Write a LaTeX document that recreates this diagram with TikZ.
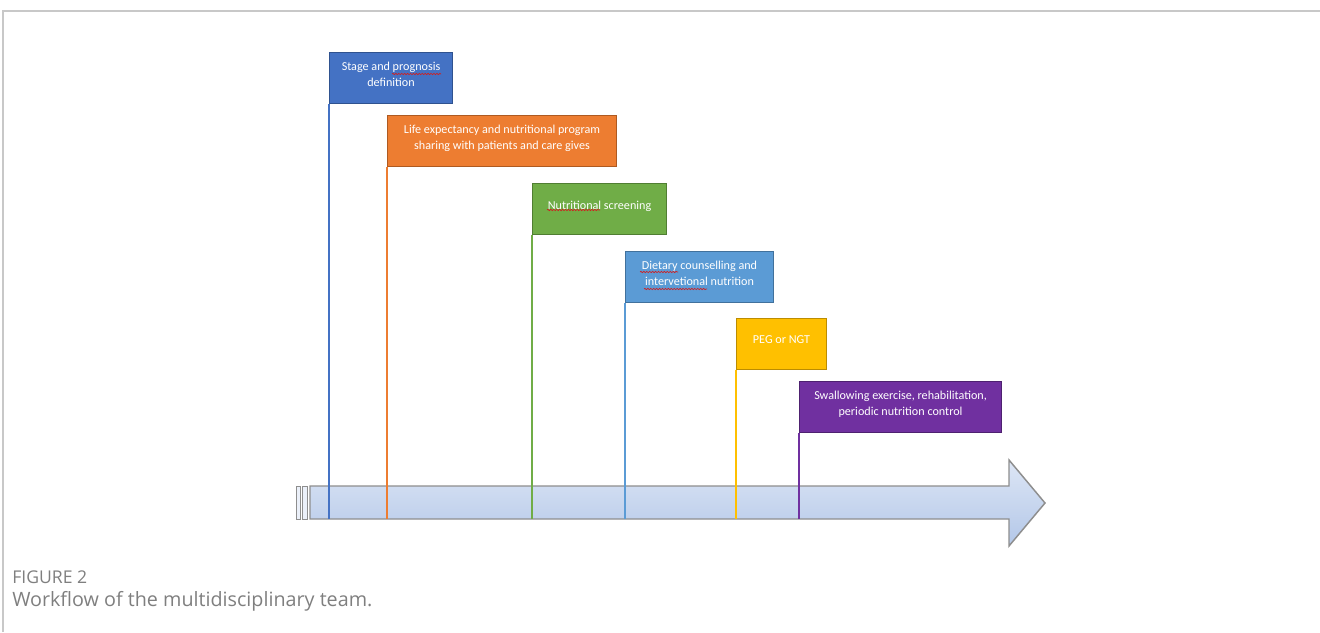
\documentclass[tikz,border=0pt]{standalone}
\usepackage{fontspec}
\setmainfont{Carlito}
\newfontfamily\capfont{Open Sans}
\usetikzlibrary{positioning}
\usetikzlibrary{decorations.pathmorphing}

\definecolor{stageblue}{HTML}{4472C4}
\definecolor{stageedge}{HTML}{2F528F}
\definecolor{lifeorange}{HTML}{ED7D31}
\definecolor{lifeedge}{HTML}{AE5A21}
\definecolor{screengreen}{HTML}{70AD47}
\definecolor{screenedge}{HTML}{507E32}
\definecolor{dietblue}{HTML}{5B9BD5}
\definecolor{dietedge}{HTML}{41719C}
\definecolor{pegyellow}{HTML}{FFC000}
\definecolor{pegedge}{HTML}{BC8C00}
\definecolor{swallowpurple}{HTML}{7030A0}
\definecolor{swallowedge}{HTML}{4E2170}
\definecolor{bartop}{HTML}{DDE6F5}
\definecolor{barbottom}{HTML}{B3C7E8}
\definecolor{baredge}{HTML}{8E8E8E}
\definecolor{capgray}{HTML}{7F7F7F}
\definecolor{framegray}{HTML}{C8C8C8}
\definecolor{spellred}{HTML}{D02020}

\begin{document}
\begin{tikzpicture}[
		x=0.75pt, y=-0.75pt,
		block/.style={draw, thick, anchor=north west, align=center, text=white,
			minimum height=38.25pt, inner sep=2pt, text depth=6pt,
			font=\fontsize{9.1}{12}\selectfont},
		stem/.style={line width=1.3pt},
		squiggle/.style={spellred, line width=0.5pt,
			decorate, decoration={snake, amplitude=0.5pt, segment length=2.2pt}}
	]
	\useasboundingbox (0,0) rectangle (1320,632);
	% frame
	\draw[framegray, thick] (3,632) -- (3,11) -- (1320,11);

	% time bar
	\shade[top color=bartop, bottom color=barbottom, draw=baredge, line width=1.1pt]
		(310,486) -- (1009,486) -- (1009,460) -- (1045,503) -- (1009,546)
		-- (1009,519) -- (310,519) -- cycle;
	\filldraw[fill=bartop!60!white, draw=baredge, line width=0.7pt] (296,486) rectangle (300,519);
	\filldraw[fill=bartop!60!white, draw=baredge, line width=0.7pt] (302.5,486) rectangle (307,519);
	\coordinate (barbot) at (310,519);

	% steps
	\node[block, fill=stageblue, draw=stageedge, minimum width=92.25pt] (stage) at (329,52)
		{Stage and prognosis\\definition};
	\node[block, fill=lifeorange, draw=lifeedge, minimum width=171.75pt] (life) at (387,115)
		{Life expectancy and nutritional program\\sharing with patients and care gives};
	\node[block, fill=screengreen, draw=screenedge, minimum width=100.5pt] (screen) at (532,183)
		{Nutritional screening};
	\node[block, fill=dietblue, draw=dietedge, minimum width=111pt] (diet) at (625,251)
		{Dietary counselling and\\intervetional nutrition};
	\node[block, fill=pegyellow, draw=pegedge, minimum width=67.5pt] (peg) at (736,318)
		{PEG or NGT};
	\node[block, fill=swallowpurple, draw=swallowedge, minimum width=151.5pt] (swallow) at (799,381)
		{Swallowing exercise, rehabilitation,\\periodic nutrition control};

	\draw[stem, stageblue] (stage.south west) -- (stage.south west |- barbot);
	\draw[stem, lifeorange] (life.south west) -- (life.south west |- barbot);
	\draw[stem, screengreen] (screen.south west) -- (screen.south west |- barbot);
	\draw[stem, dietblue] (diet.south west) -- (diet.south west |- barbot);
	\draw[stem, pegyellow] (peg.south west) -- (peg.south west |- barbot);
	\draw[stem, swallowpurple] (swallow.south west) -- (swallow.south west |- barbot);

	% spell-check marks
	\draw[squiggle] (392,74) -- (441,74);
	\draw[squiggle] (547,210) -- (600,210);
	\draw[squiggle] (640,272) -- (678,272);
	\draw[squiggle] (644,289) -- (707,289);

	% caption
	\node[anchor=west, inner sep=0pt, text=capgray, font=\capfont\fontsize{13.2}{15}\selectfont] (fig) at (12,577) {FIGURE 2};
	\node[anchor=west, inner sep=0pt, text=capgray, font=\capfont\fontsize{14.8}{17}\selectfont] (title) at (12,601)
		{Workflow of the multidisciplinary team.};
\end{tikzpicture}
\end{document}
